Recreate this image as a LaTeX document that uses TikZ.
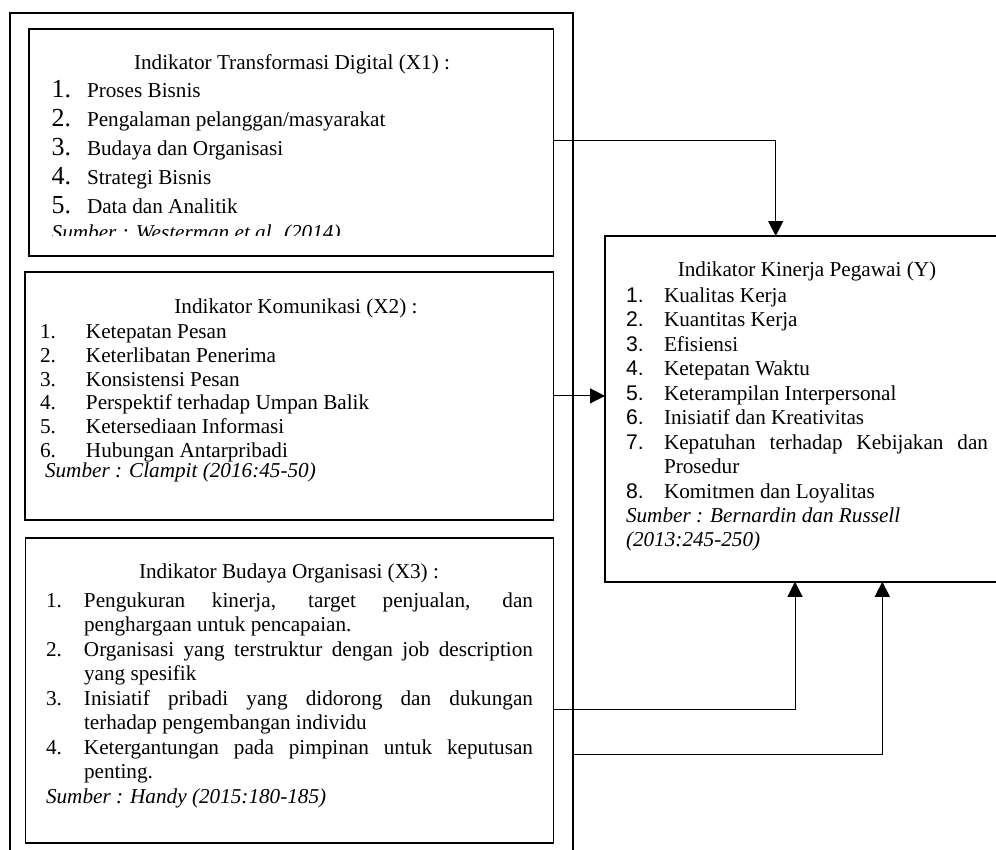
\documentclass[tikz,border=0pt]{standalone}
\usepackage{fontspec}
\setmainfont{Liberation Serif}
\newfontfamily\arialf{Liberation Sans}
\usetikzlibrary{arrows.meta}
\newcommand\bodyfont{\fontsize{21.2}{24.4}\selectfont}
\newcommand\itemline[3]{\par\noindent\hangindent=#1\hangafter=1\makebox[#1][l]{#2}#3\par}
\newcommand\firststrut{\rule{0pt}{20pt}}
\begin{document}
\begin{tikzpicture}[x=1pt,y=-1pt,
  box/.style={draw, rectangle, line width=1.6pt, inner sep=0pt, outer sep=0pt},
  outerbox/.style={draw, rectangle, line width=2pt, inner sep=0pt, outer sep=0pt},
  conn/.style={line width=1pt, -{Triangle[length=15pt,width=15pt]}},
  txt/.style={inner sep=0pt, outer sep=0pt, font=\bodyfont},
  blk/.style={inner sep=0pt, outer sep=0pt, font=\bodyfont, anchor=north west, align=justify}]
\useasboundingbox (0,0) rectangle (996,850);

% outer frame (open at the bottom edge of the picture)
\node[outerbox, minimum width=562.7pt, minimum height=866.7pt] (outer) at (291.35,446.65) {};

% boxes
\node[box, minimum width=524.8pt, minimum height=227pt] (box1) at (291.1,142.5) {};
\node[box, minimum width=528.3pt, minimum height=248.3pt] (box2) at (289.2,395.9) {};
\node[box, minimum width=527.9pt, minimum height=305pt] (box3) at (289.5,690.2) {};
\node[box, minimum width=404pt, minimum height=345.7pt] (Y) at (807,408.9) {};

% box 1 text
\node[txt, anchor=base] (t1) at (292,70) {Indikator Transformasi Digital (X1) :};
\node[blk, text width=480pt] (l1) at (51.7,69) {\baselineskip=29pt
\itemline{35.3pt}{\fontsize{26}{29}\selectfont 1.}{\firststrut Proses Bisnis}
\itemline{35.3pt}{\fontsize{26}{29}\selectfont 2.}{Pengalaman pelanggan/masyarakat}
\itemline{35.3pt}{\fontsize{26}{29}\selectfont 3.}{Budaya dan Organisasi}
\itemline{35.3pt}{\fontsize{26}{29}\selectfont 4.}{Strategi Bisnis}
\itemline{35.3pt}{\fontsize{26}{29}\selectfont 5.}{Data dan Analitik}};
\begin{scope}
\clip (30,218) rectangle (552,236);
\node[txt, anchor=base west] (s1) at (51.7,239.5) {\textit{Sumber : Westerman et al. (2014)}};
\end{scope}

% box 2 text
\node[txt, anchor=base] (t2) at (296,313) {Indikator Komunikasi (X2) :};
\node[blk, text width=500pt] (l2) at (40,315) {\baselineskip=23.7pt
\itemline{46pt}{1.}{\firststrut Ketepatan Pesan}
\itemline{46pt}{2.}{Keterlibatan Penerima}
\itemline{46pt}{3.}{Konsistensi Pesan}
\itemline{46pt}{4.}{Perspektif terhadap Umpan Balik}
\itemline{46pt}{5.}{Ketersediaan Informasi}
\itemline{46pt}{6.}{Hubungan Antarpribadi}};
\node[txt, anchor=base west] (s2) at (45,477) {\textit{Sumber : Clampit (2016:45-50)}};

% box 3 text
\node[txt, anchor=base] (t3) at (289,578) {Indikator Budaya Organisasi (X3) :};
\node[blk, text width=487pt] (l3) at (46,582.5) {\baselineskip=24.5pt
\itemline{38pt}{1.}{\firststrut Pengukuran kinerja, target penjualan, dan\linebreak penghargaan untuk pencapaian.}
\itemline{38pt}{2.}{Organisasi yang terstruktur dengan job description\linebreak yang spesifik}
\itemline{38pt}{3.}{Inisiatif pribadi yang didorong dan dukungan\linebreak terhadap pengembangan individu}
\itemline{38pt}{4.}{Ketergantungan pada pimpinan untuk keputusan\linebreak penting.}
\noindent\textit{Sumber : Handy (2015:180-185)}\par};

% box Y text
\node[txt, anchor=base] (tY) at (807,277) {Indikator Kinerja Pegawai (Y)};
\node[blk, text width=362pt] (lY) at (626,278) {\baselineskip=24.45pt
\itemline{38pt}{\arialf 1.}{\firststrut Kualitas Kerja}
\itemline{38pt}{\arialf 2.}{Kuantitas Kerja}
\itemline{38pt}{\arialf 3.}{Efisiensi}
\itemline{38pt}{\arialf 4.}{Ketepatan Waktu}
\itemline{38pt}{\arialf 5.}{Keterampilan Interpersonal}
\itemline{38pt}{\arialf 6.}{Inisiatif dan Kreativitas}
\itemline{38pt}{\arialf 7.}{Kepatuhan terhadap Kebijakan dan\linebreak Prosedur}
\itemline{38pt}{\arialf 8.}{Komitmen dan Loyalitas}
\noindent\textit{Sumber : Bernardin dan Russell}\par
\noindent\textit{(2013:245-250)}\par};

% connectors
\coordinate (a1) at (775.7,140.7);
\coordinate (a3) at (795,709);
\coordinate (a4) at (882.3,754);
\draw[conn] (box1.east |- a1) -- (a1) -- (a1 |- Y.north);
\draw[conn] (box2.east) -- (Y.west |- box2.east);
\draw[conn] (box3.east |- a3) -- (a3) -- (a3 |- Y.south);
\draw[conn] (outer.east |- a4) -- (a4) -- (a4 |- Y.south);
\end{tikzpicture}
\end{document}
